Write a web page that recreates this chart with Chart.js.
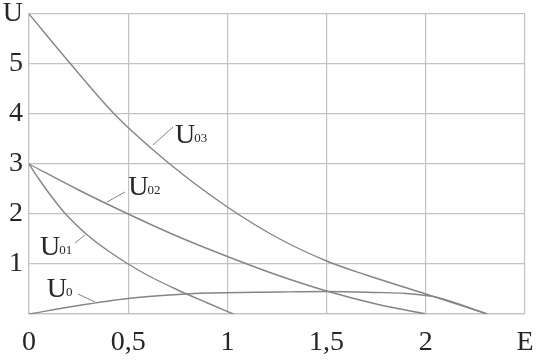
<!DOCTYPE html>
<html>
<head>
<meta charset="utf-8">
<script src="https://cdn.jsdelivr.net/npm/chart.js@4/dist/chart.umd.min.js"></script>
<style>
  html, body { margin: 0; padding: 0; background: #fff; }
  #wrap { width: 543px; height: 360px; }
</style>
</head>
<body>
<div id="wrap"><canvas id="chart"></canvas></div>
<script>
// --- DATA ---
const xTickLabels = ['0', '0,5', '1', '1,5', '2', 'E'];
const yTickLabels = ['', '1', '2', '3', '4', '5', 'U'];

const u03E = [0, 0.21, 0.43, 0.71, 1.0, 1.25, 1.5, 1.7, 2.0, 2.31];
const u03U = [6, 5.0, 4.0, 3.0, 2.14, 1.53, 1.06, 0.78, 0.4, 0];

const u02E = [0, 0.25, 0.5, 0.75, 1.0, 1.25, 1.5, 1.75, 2.0];
const u02U = [3, 2.48, 2.0, 1.55, 1.15, 0.78, 0.46, 0.2, 0];

const u01E = [0, 0.05, 0.1, 0.18, 0.3, 0.4, 0.5, 0.6, 0.75, 0.9, 1.03];
const u01U = [3, 2.7, 2.42, 2.02, 1.56, 1.26, 1.0, 0.77, 0.48, 0.22, 0];

const u0E = [0, 0.25, 0.5, 0.75, 0.9, 1.25, 1.5, 1.75, 1.9, 2.0, 2.05, 2.31];
const u0U = [0, 0.17, 0.31, 0.39, 0.42, 0.44, 0.45, 0.43, 0.41, 0.37, 0.34, 0];

// curve labels: subscript, anchor of "U" (left, baseline) and leader line, all in data units
const curveLabels = [
    { sub: '03', at: [0.736, 3.42], from: [0.625, 3.38], to: [0.726, 3.74] },
    { sub: '02', at: [0.5, 2.38], from: [0.393, 2.24], to: [0.484, 2.44] },
    { sub: '01', at: [0.055, 1.18], from: [0.232, 1.42], to: [0.282, 1.58] },
    { sub: '0', at: [0.09, 0.34], from: [0.247, 0.40], to: [0.333, 0.24] }
];

const LINE = '#858585';
const GRID = '#c2c2c2';
const TEXT = '#262626';
const FONT = '"Liberation Serif", "Times New Roman", serif';

function pts(xs, ys) { return xs.map((x, i) => ({ x: x, y: ys[i] })); }

function series(xs, ys) {
    return {
        data: pts(xs, ys),
        borderColor: LINE,
        borderWidth: 1.4,
        pointRadius: 0,
        fill: false,
        cubicInterpolationMode: 'monotone'
    };
}

// --- LABEL PLUGIN ---
const labelPlugin = {
    id: 'curveLabels',
    afterDatasetsDraw(chart) {
        const ctx = chart.ctx;
        const xs = chart.scales.x, ys = chart.scales.y;
        ctx.save();
        curveLabels.forEach(l => {
            ctx.strokeStyle = LINE;
            ctx.lineWidth = 1;
            ctx.beginPath();
            ctx.moveTo(xs.getPixelForValue(l.from[0]), ys.getPixelForValue(l.from[1]));
            ctx.lineTo(xs.getPixelForValue(l.to[0]), ys.getPixelForValue(l.to[1]));
            ctx.stroke();

            const px = xs.getPixelForValue(l.at[0]);
            const py = ys.getPixelForValue(l.at[1]);
            ctx.fillStyle = TEXT;
            ctx.textBaseline = 'alphabetic';
            ctx.textAlign = 'left';
            ctx.font = '28px ' + FONT;
            ctx.fillText('U', px, py);
            const w = ctx.measureText('U').width;
            ctx.font = '13px ' + FONT;
            ctx.fillText(l.sub, px + w - 1, py - 1);
        });
        ctx.restore();
    }
};

new Chart(document.getElementById('chart'), {
    type: 'line',
    data: {
        datasets: [
            series(u03E, u03U),
            series(u02E, u02U),
            series(u01E, u01U),
            series(u0E, u0U)
        ]
    },
    options: {
        responsive: true,
        maintainAspectRatio: false,
        animation: false,
        layout: { padding: { top: 14, right: 18, left: 0, bottom: 0 } },
        plugins: { legend: { display: false }, tooltip: { enabled: false } },
        scales: {
            x: {
                type: 'linear', min: 0, max: 2.5,
                grid: { color: GRID, lineWidth: 1.2, drawTicks: false },
                border: { color: GRID, width: 1.2 },
                ticks: {
                    stepSize: 0.5, padding: 12, color: TEXT, maxRotation: 0,
                    font: { family: FONT, size: 28 },
                    callback: (v) => xTickLabels[Math.round(v / 0.5)]
                },
                afterFit: (s) => { s.height = 46; s.paddingLeft = 0; s.paddingRight = 0; }
            },
            y: {
                type: 'linear', min: 0, max: 6,
                grid: { color: GRID, lineWidth: 1.2, drawTicks: false },
                border: { color: GRID, width: 1.2 },
                ticks: {
                    stepSize: 1, padding: 6, color: TEXT,
                    font: { family: FONT, size: 28 },
                    callback: (v) => yTickLabels[Math.round(v)]
                },
                afterFit: (s) => { s.width = 29; s.paddingTop = 0; s.paddingBottom = 0; }
            }
        }
    },
    plugins: [labelPlugin]
});
</script>
</body>
</html>
